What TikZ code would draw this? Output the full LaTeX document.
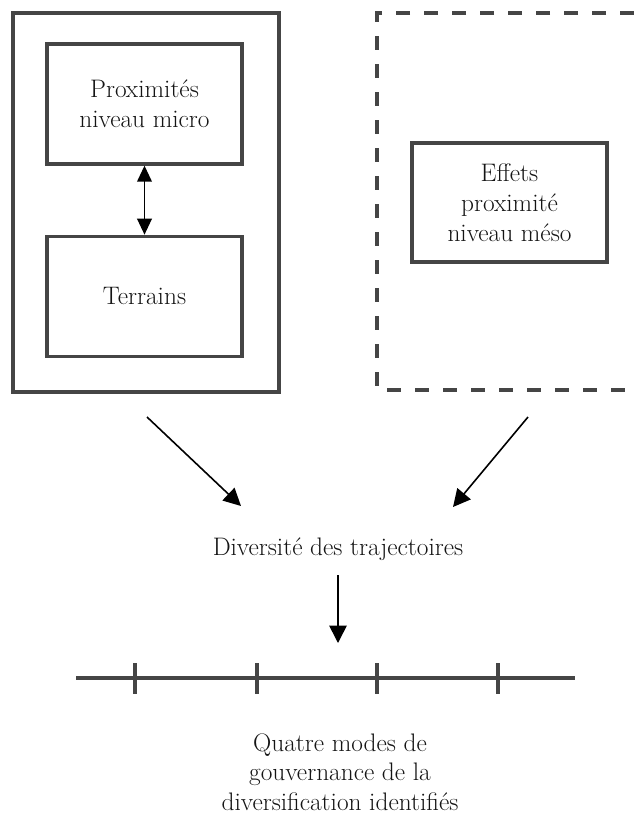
\documentclass[tikz,border=0pt]{standalone}
\usepackage{tikz}
\usetikzlibrary{arrows.meta,positioning}
\definecolor{trait}{HTML}{454545}
\definecolor{encre}{HTML}{141414}
\tikzset{
  cadre/.style={draw=trait,line width=2.5pt,minimum width=199.5pt,minimum height=284.25pt,inner sep=0pt},
  boite/.style={draw=trait,line width=2.5pt,minimum width=146.25pt,minimum height=90pt,inner sep=2pt,
                align=center,text=encre,font=\fontsize{19}{22.5}\selectfont},
  texte/.style={align=center,text=encre,inner sep=0pt,font=\fontsize{19}{22}\selectfont},
  fleche/.style={-{Triangle[length=13pt,width=13pt]},line width=1.2pt},
  dfleche/.style={{Triangle[length=12pt,width=11pt]}-{Triangle[length=12pt,width=11pt]},line width=1.2pt},
  pointille/.style={draw=trait,line width=3pt,dash pattern=on 10.5pt off 10.5pt},
  axe/.style={draw=trait,line width=3pt},
  grad/.style={draw=trait,line width=3pt},
}

\begin{document}
\begin{tikzpicture}[x=0.75pt,y=-0.75pt]
  \useasboundingbox (0,0) rectangle (634,822);
  % bloc micro
  \node[cadre] (micro) at (146,202.5) {};
  \node[boite] (prox) at (144.5,104) {Proximités\\niveau micro};
  \node[boite,below=51.75pt of prox] (terr) {Terrains};
  \draw[dfleche] (prox.south) -- (terr.north);
  % bloc meso, ouvert a droite
  \draw[pointille] (634,13) -- (377,13) -- (377,390) -- (634,390);
  \node[boite,minimum height=89.25pt] (meso) at (509.5,202.5) {Effets\\proximité\\niveau méso};
  % vers la diversite
  \coordinate (dmic) at (147,417); \coordinate (fmic) at (241,506);
  \coordinate (dmes) at (528,417); \coordinate (fmes) at (453,507);
  \draw[fleche] (dmic) -- (fmic);
  \draw[fleche] (dmes) -- (fmes);
  \node[texte] (div) at (338,549) {Diversité des trajectoires};
  \coordinate (hfl) at (338,575); \coordinate (bfl) at (338,643);
  \draw[fleche] (hfl) -- (bfl);
  % axe a quatre graduations
  \coordinate (axg) at (76,678); \coordinate (axd) at (575,678);
  \draw[axe] (axg) -- (axd);
  \foreach \x in {135,257,377,498}
    \draw[grad] (\x,663) -- (\x,694);
  \node[texte] (modes) at (340,772) {Quatre modes de\\gouvernance de la\\diversification identifiés};
\end{tikzpicture}
\end{document}
